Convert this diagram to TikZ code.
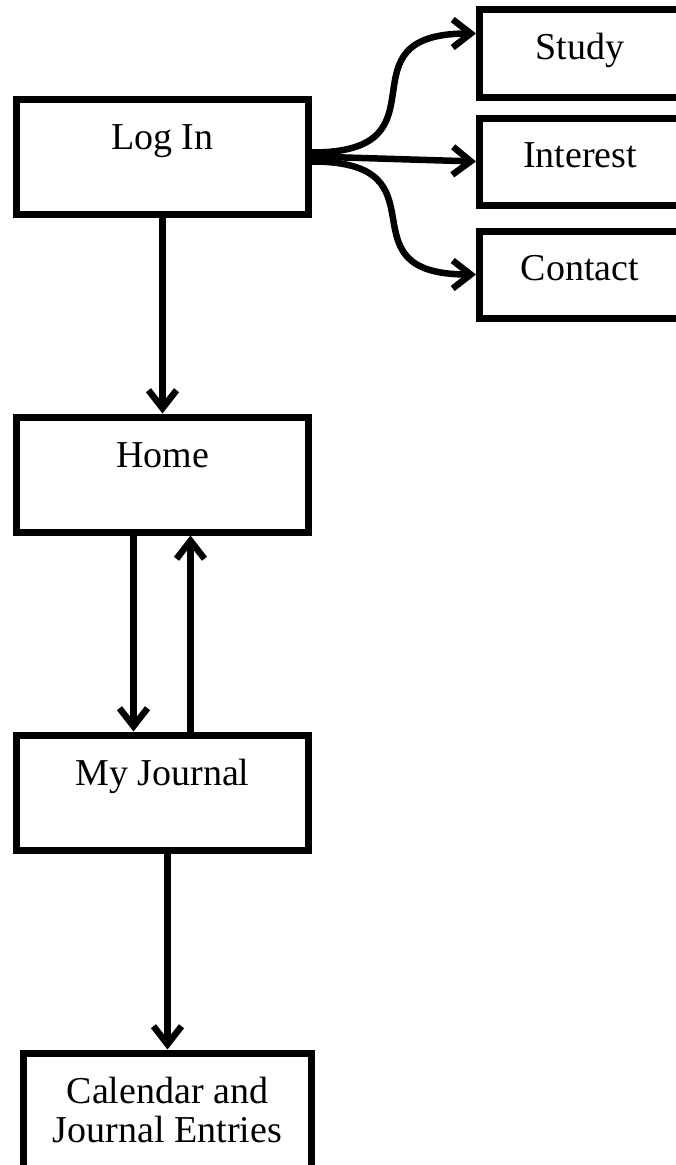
\documentclass[tikz,border=0pt]{standalone}
\usepackage{fontspec}
\setmainfont{Liberation Serif}
\usepackage{tikz}
\usetikzlibrary{arrows.meta, positioning, calc}

\begin{document}
\begin{tikzpicture}[
    x=1pt, y=1pt,
    node distance=196pt,
    frame/.style={rectangle, draw, line width=7pt, align=center, font=\fontsize{38}{39}\selectfont},
    page/.style={frame, minimum width=292pt, minimum height=115pt, text height=26pt, text depth=40pt},
    tab/.style={frame, minimum width=201pt, minimum height=87pt, text height=26pt, text depth=15pt},
    arrow/.style={-{Straight Barb[length=18pt,width=28pt]}, line width=6.5pt, line cap=round, line join=round}
]
\clip (-162.5,156.5) rectangle (513.5,-1008.5);

\node[page] (login) {Log In};
\node[page, below=of login] (home) {Home};
\node[page, below=of home] (journal) {My Journal};
\node[frame, below=of journal, xshift=5pt, minimum width=288pt, inner ysep=24pt, text depth=60pt] (entries) {Calendar and\\Journal Entries};

\node[tab, right=164pt of login, yshift=-5pt] (interest) {Interest};
\node[tab, above=14pt of interest] (study) {Study};
\node[tab, below=19pt of interest] (contact) {Contact};

\draw[arrow] ([yshift=4pt]login.east) to[out=0, in=180, looseness=1.8] ([yshift=20pt]study.west);
\draw[arrow] (login.east) -- (interest.west);
\draw[arrow] ([yshift=-5pt]login.east) to[out=0, in=180, looseness=1.8] (contact.west);

\draw[arrow] (login.south) -- (home.north);
\draw[arrow] ([xshift=-29pt]home.south) -- ([xshift=-29pt]journal.north);
\draw[arrow] ([xshift=28pt]journal.north) -- ([xshift=28pt]home.south);
\draw[arrow] (journal.south -| entries.north) -- (entries.north);

\end{tikzpicture}
\end{document}
